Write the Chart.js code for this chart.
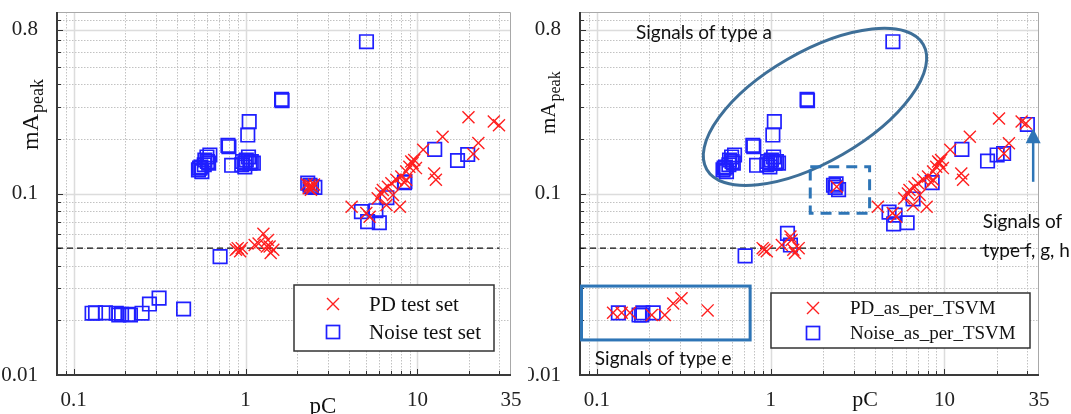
<!DOCTYPE html>
<html>
<head>
<meta charset="utf-8">
<script src="https://cdn.jsdelivr.net/npm/chart.js@4.4.1/dist/chart.umd.min.js"></script>
<style>
  html, body { margin: 0; padding: 0; background: #fff; width: 1071px; height: 414px; overflow: hidden; }
  #leftPanel { position: absolute; left: 0; top: 0; }
  #rightPanel { position: absolute; left: 528px; top: 0; }
</style>
</head>
<body>
<canvas id="leftPanel" width="535" height="414"></canvas>
<canvas id="rightPanel" width="543" height="414"></canvas>
<script>
// axis ranges, ticks and grid values (pC on x, mA peak on y, both log)
const xRange = [0.08, 35];
const yRange = [0.01, 1];
const xTickValues = [0.1, 1, 10, 35];
const xTickLabels = ['0.1', '1', '10', '35'];
const yTickValues = [0.01, 0.1, 0.8];
const yTickLabels = ['0.01', '0.1', '0.8'];
const xMajorGrid = [0.1, 1, 10];
const xMinorGrid = [0.09, 0.2, 0.3, 0.4, 0.5, 0.6, 0.7, 0.8, 0.9, 2, 3, 4, 5, 6, 7, 8, 9, 20, 30];
const yMajorGrid = [0.1, 0.8];
const yMinorGrid = [0.02, 0.03, 0.04, 0.05, 0.06, 0.07, 0.08, 0.09, 0.2, 0.3, 0.4, 0.5, 0.6, 0.7, 0.9];

// dashed threshold line
const thresholdX = [0.08, 30];
const thresholdY = [0.05, 0.05];

// left panel: test sets [pC, mA]
const pdTest = [
    [0.88, 0.049], [0.90, 0.050], [0.93, 0.048], [0.95, 0.050], [1.13, 0.052], [1.19, 0.053],
    [1.27, 0.060], [1.35, 0.0555], [1.38, 0.051], [1.33, 0.051], [1.45, 0.049], [1.40, 0.047],
    [2.27, 0.1125], [2.37, 0.111], [2.45, 0.109], [2.33, 0.107], [2.50, 0.112], [2.40, 0.105],
    [4.14, 0.0846], [5.04, 0.078], [5.27, 0.0745], [5.87, 0.094], [6.16, 0.100], [6.29, 0.1045],
    [6.6, 0.0864], [6.73, 0.109], [7.2, 0.098], [7.05, 0.114], [7.54, 0.119], [7.9, 0.0846],
    [8.05, 0.124], [8.6, 0.132], [8.6, 0.119], [8.4, 0.115], [8.97, 0.1405], [9.2, 0.150],
    [9.36, 0.147], [9.57, 0.153], [9.8, 0.138], [10.8, 0.174], [12.5, 0.129], [12.8, 0.119],
    [14.0, 0.2055], [19.8, 0.263], [21.1, 0.165], [22.6, 0.190], [27.8, 0.249], [29.8, 0.238]
];
const noiseTest = [
    [5.05, 0.686], [1.62, 0.33], [1.63, 0.325], [1.05, 0.249], [1.03, 0.21], [0.79, 0.184], [0.80, 0.181],
    [0.532, 0.135], [0.55, 0.140], [0.575, 0.144], [0.596, 0.159], [0.61, 0.147], [0.557, 0.132],
    [0.58, 0.153], [0.54, 0.138], [0.60, 0.150], [0.62, 0.163],
    [0.83, 0.143], [0.95, 0.144], [0.99, 0.147], [1.04, 0.159], [1.06, 0.147], [1.08, 0.150],
    [0.99, 0.140], [1.01, 0.153], [0.96, 0.150], [1.11, 0.147],
    [2.30, 0.114], [2.42, 0.109], [2.53, 0.108], [2.37, 0.111],
    [0.711, 0.0449],
    [4.72, 0.0794], [5.13, 0.070], [5.73, 0.0804], [6.0, 0.069], [6.64, 0.0948], [8.4, 0.1147],
    [8.45, 0.116], [12.6, 0.175], [17.1, 0.152], [19.6, 0.164],
    [0.128, 0.0219], [0.134, 0.022], [0.153, 0.022], [0.177, 0.0219], [0.183, 0.0214], [0.19, 0.0216],
    [0.207, 0.0216], [0.214, 0.0214], [0.25, 0.0219], [0.276, 0.0246], [0.314, 0.0265], [0.436, 0.0231]
];

// right panel: labels as per TSVM
const pdTsvm = [
    [0.124, 0.022], [0.139, 0.022], [0.155, 0.022], [0.207, 0.0214], [0.246, 0.0214], [0.275, 0.0248],
    [0.307, 0.0265], [0.434, 0.0227],
    [0.90, 0.050], [0.92, 0.049], [0.95, 0.048], [1.16, 0.052], [1.32, 0.0555], [1.35, 0.049],
    [1.45, 0.050], [1.38, 0.047], [1.30, 0.058],
    [2.40, 0.109],
    [4.14, 0.0846], [5.04, 0.078], [5.27, 0.0745], [5.87, 0.094], [6.16, 0.100], [6.29, 0.1045],
    [6.6, 0.0864], [6.73, 0.109], [7.2, 0.098], [7.05, 0.114], [7.54, 0.119], [7.9, 0.0846],
    [8.05, 0.124], [8.6, 0.132], [8.6, 0.119], [8.4, 0.115], [8.97, 0.1405], [9.2, 0.150],
    [9.36, 0.147], [9.57, 0.153], [9.8, 0.138], [10.8, 0.174], [12.5, 0.129], [12.8, 0.119],
    [14.0, 0.2055], [20.6, 0.259], [23.5, 0.189], [22.0, 0.166], [27.8, 0.249], [29.4, 0.243]
];
const noiseTsvm = [
    [5.05, 0.686], [1.62, 0.33], [1.63, 0.325], [1.05, 0.249], [1.03, 0.21], [0.79, 0.184], [0.80, 0.181],
    [0.532, 0.135], [0.55, 0.140], [0.575, 0.144], [0.596, 0.159], [0.61, 0.147], [0.557, 0.132],
    [0.58, 0.153], [0.54, 0.138], [0.60, 0.150], [0.62, 0.163],
    [0.83, 0.143], [0.95, 0.144], [0.99, 0.147], [1.04, 0.159], [1.06, 0.147], [1.08, 0.150],
    [0.99, 0.140], [1.01, 0.153], [0.96, 0.150], [1.11, 0.147],
    [2.30, 0.111], [2.46, 0.105], [2.35, 0.108], [2.38, 0.113],
    [0.713, 0.0453], [1.25, 0.0603], [1.30, 0.052],
    [4.8, 0.079], [5.2, 0.076], [5.1, 0.068], [6.1, 0.069], [6.6, 0.0933], [8.5, 0.1147],
    [12.6, 0.175], [17.7, 0.151], [20.1, 0.163], [21.9, 0.166], [30.0, 0.240],
    [0.133, 0.022], [0.175, 0.0214], [0.181, 0.0214], [0.184, 0.022], [0.211, 0.022]
];

const toPoints = (arr) => arr.map(([x, y]) => ({ x: x, y: y }));

const serif = '"Liberation Serif", "Times New Roman", serif';
Chart.defaults.font.family = serif;

/* Draws the grid, box, legend, axis titles and notes of one panel
*/
const panelDecor = {
    id: 'panelDecor',

    beforeDatasetsDraw(chart, args, opts) {
        const ctx = chart.ctx;
        const a = chart.chartArea;
        const xs = chart.scales.x;
        const ys = chart.scales.y;
        const vLine = (v) => { const p = Math.round(xs.getPixelForValue(v)) + 0.5; ctx.beginPath(); ctx.moveTo(p, a.top); ctx.lineTo(p, a.bottom); ctx.stroke(); };
        const hLine = (v) => { const p = Math.round(ys.getPixelForValue(v)) + 0.5; ctx.beginPath(); ctx.moveTo(a.left, p); ctx.lineTo(a.right, p); ctx.stroke(); };

        ctx.save();
        // minor dotted grid
        ctx.strokeStyle = '#c2c2c2';
        ctx.lineWidth = 1;
        ctx.setLineDash([1.5, 1.5]);
        xMinorGrid.forEach(vLine);
        yMinorGrid.forEach(hLine);
        // major solid grid
        ctx.setLineDash([]);
        ctx.strokeStyle = '#dcdcdc';
        ctx.lineWidth = 1.5;
        xMajorGrid.forEach(vLine);
        yMajorGrid.forEach(hLine);

        // top and right border
        ctx.strokeStyle = '#a8a8a8';
        ctx.lineWidth = 1;
        ctx.beginPath();
        ctx.moveTo(a.left, a.top + 0.5);
        ctx.lineTo(a.right - 0.5, a.top + 0.5);
        ctx.lineTo(a.right - 0.5, a.bottom);
        ctx.stroke();

        // inward ticks on left and bottom axes
        ctx.strokeStyle = '#333';
        ctx.beginPath();
        xMajorGrid.concat(xMinorGrid).forEach(v => {
            const p = Math.round(xs.getPixelForValue(v)) + 0.5;
            const len = xMajorGrid.includes(v) ? 6 : 4;
            ctx.moveTo(p, a.bottom); ctx.lineTo(p, a.bottom - len);
        });
        yMajorGrid.concat(yMinorGrid).forEach(v => {
            const p = Math.round(ys.getPixelForValue(v)) + 0.5;
            const len = yMajorGrid.includes(v) ? 6 : 4;
            ctx.moveTo(a.left, p); ctx.lineTo(a.left + len, p);
        });
        ctx.stroke();

        // axis lines
        ctx.strokeStyle = '#3a3a3a';
        ctx.lineWidth = 2;
        ctx.beginPath();
        ctx.moveTo(a.left, a.top);
        ctx.lineTo(a.left, a.bottom);
        ctx.lineTo(a.right, a.bottom);
        ctx.stroke();
        ctx.restore();
    },

    afterDatasetsDraw(chart, args, opts) {
        const ctx = chart.ctx;
        const xs = chart.scales.x;
        const ys = chart.scales.y;
        const pd = chart.data.datasets[0];
        const noise = chart.data.datasets[1];
        ctx.save();

        // notes (right panel only)
        (opts.notes || []).forEach(n => {
            ctx.strokeStyle = n.color;
            ctx.fillStyle = n.color;
            ctx.lineWidth = n.width || 3;
            ctx.setLineDash(n.dash || []);
            if (n.kind === 'ellipse') {
                ctx.beginPath();
                ctx.ellipse(xs.getPixelForValue(n.x), ys.getPixelForValue(n.y), n.rx, n.ry, n.angle * Math.PI / 180, 0, Math.PI * 2);
                ctx.stroke();
            } else if (n.kind === 'box') {
                const x0 = xs.getPixelForValue(n.x0), x1 = xs.getPixelForValue(n.x1);
                const y0 = ys.getPixelForValue(n.y0), y1 = ys.getPixelForValue(n.y1);
                ctx.strokeRect(x0, y1, x1 - x0, y0 - y1);
            } else if (n.kind === 'arrow') {
                const px = xs.getPixelForValue(n.x);
                const yFrom = ys.getPixelForValue(n.yFrom);
                const yTo = ys.getPixelForValue(n.yTo);
                ctx.beginPath();
                ctx.moveTo(px, yFrom);
                ctx.lineTo(px, yTo + 12);
                ctx.stroke();
                ctx.beginPath();
                ctx.moveTo(px, yTo);
                ctx.lineTo(px - 7.5, yTo + 15);
                ctx.lineTo(px + 7.5, yTo + 15);
                ctx.closePath();
                ctx.fill();
            } else if (n.kind === 'text') {
                ctx.font = n.font;
                ctx.fillStyle = '#111';
                ctx.textAlign = 'left';
                ctx.textBaseline = 'middle';
                ctx.fillText(n.text, xs.getPixelForValue(n.x), ys.getPixelForValue(n.y));
            }
        });
        ctx.setLineDash([]);

        // legend box
        const lg = opts.legend;
        ctx.fillStyle = '#fff';
        ctx.fillRect(lg.x0, lg.y0, lg.x1 - lg.x0, lg.y1 - lg.y0);
        ctx.strokeStyle = '#333';
        ctx.lineWidth = 1.5;
        ctx.strokeRect(lg.x0, lg.y0, lg.x1 - lg.x0, lg.y1 - lg.y0);

        // legend markers
        ctx.lineWidth = pd.pointBorderWidth;
        ctx.strokeStyle = pd.pointBorderColor;
        ctx.beginPath();
        ctx.moveTo(lg.markX - 6, lg.row1 - 6); ctx.lineTo(lg.markX + 6, lg.row1 + 6);
        ctx.moveTo(lg.markX + 6, lg.row1 - 6); ctx.lineTo(lg.markX - 6, lg.row1 + 6);
        ctx.stroke();
        ctx.lineWidth = noise.pointBorderWidth;
        ctx.strokeStyle = noise.pointBorderColor;
        ctx.strokeRect(lg.markX - 6.5, lg.row2 - 6.5, 13, 13);

        ctx.fillStyle = '#111';
        ctx.font = lg.font;
        ctx.textAlign = 'left';
        ctx.textBaseline = 'middle';
        ctx.fillText(pd.label, lg.textX, lg.row1 + 1);
        ctx.fillText(noise.label, lg.textX, lg.row2 + 1);

        // x title
        const t = opts.titles;
        ctx.font = t.xFont;
        ctx.textAlign = 'center';
        ctx.textBaseline = 'alphabetic';
        ctx.fillText('pC', t.xCenter, t.xBase);

        // y title: mA with subscript peak, rotated
        ctx.translate(t.yBase, t.yStart);
        ctx.rotate(-Math.PI / 2);
        ctx.textAlign = 'left';
        ctx.font = t.yFont;
        ctx.fillText('mA', 0, 0);
        const w = ctx.measureText('mA').width;
        ctx.font = t.subFont;
        ctx.fillText('peak', w + 1, t.subDrop);
        ctx.restore();
    }
};

/* Builds one log-log scatter panel
*/
const buildPanel = (canvasId, setup) => {

    const ctx = document.getElementById(canvasId).getContext('2d');

    const data = {
        datasets: [{
            label: setup.pdLabel,
            data: toPoints(setup.pd),
            pointStyle: 'crossRot',
            pointRadius: 8.5,
            pointBorderColor: '#ff1f1f',
            pointBackgroundColor: '#ff1f1f',
            pointBorderWidth: 1.4,
            showLine: false
        }, {
            label: setup.noiseLabel,
            data: toPoints(setup.noise),
            pointStyle: 'rect',
            pointRadius: 9.5,
            pointBorderColor: '#1f1fff',
            pointBackgroundColor: 'rgba(0,0,0,0)',
            pointBorderWidth: 1.7,
            showLine: false
        }, {
            type: 'line',
            label: 'threshold',
            data: thresholdX.map((v, i) => ({ x: v, y: thresholdY[i] })),
            borderColor: '#111',
            borderWidth: 1.3,
            borderDash: [6, 4],
            pointRadius: 0,
            fill: false
        }]
    };

    const tickFont = { family: serif, size: 21 };

    const config = {
        type: 'scatter',
        data: data,
        options: {
            responsive: false,
            animation: false,
            devicePixelRatio: 1,
            events: [],
            layout: { padding: { top: 12, right: setup.padRight, left: 0, bottom: 0 } },
            plugins: {
                legend: { display: false },
                tooltip: { enabled: false },
                panelDecor: setup.decor
            },
            scales: {
                x: {
                    type: 'logarithmic',
                    min: xRange[0],
                    max: xRange[1],
                    grid: { display: false },
                    border: { display: false },
                    ticks: {
                        autoSkip: false,
                        maxRotation: 0,
                        padding: 5,
                        color: '#222',
                        font: tickFont,
                        callback: (v) => xTickLabels[xTickValues.indexOf(v)] || ''
                    },
                    afterBuildTicks: (s) => { s.ticks = xTickValues.map(v => ({ value: v })); },
                    afterFit: (s) => { s.height = 39; s.paddingLeft = 0; s.paddingRight = 0; }
                },
                y: {
                    type: 'logarithmic',
                    min: yRange[0],
                    max: yRange[1],
                    grid: { display: false },
                    border: { display: false },
                    ticks: {
                        autoSkip: false,
                        padding: 11,
                        color: '#222',
                        font: tickFont,
                        callback: (v) => yTickLabels[yTickValues.indexOf(v)] || ''
                    },
                    afterBuildTicks: (s) => { s.ticks = yTickValues.map(v => ({ value: v })); },
                    afterFit: (s) => { s.width = setup.yWidth; s.paddingTop = 0; s.paddingBottom = 0; }
                }
            }
        },
        plugins: [panelDecor]
    };

    return new Chart(ctx, config);
};

const noteBlue = '#2e75b6';

buildPanel('leftPanel', {
    pdLabel: 'PD test set',
    noiseLabel: 'Noise test set',
    pd: pdTest,
    noise: noiseTest,
    yWidth: 57,
    padRight: 24,
    decor: {
        legend: { x0: 294, y0: 285, x1: 494, y1: 351, markX: 333, textX: 369, row1: 304, row2: 332,
                  font: '21px ' + serif },
        titles: { xCenter: 323, xBase: 413, xFont: '23px ' + serif,
                  yBase: 38, yStart: 150, yFont: '24px ' + serif, subFont: '18px ' + serif, subDrop: 5 },
        notes: []
    }
});

buildPanel('rightPanel', {
    pdLabel: 'PD_as_per_TSVM',
    noiseLabel: 'Noise_as_per_TSVM',
    pd: pdTsvm,
    noise: noiseTsvm,
    yWidth: 52,
    padRight: 32,
    decor: {
        legend: { x0: 243, y0: 293, x1: 502, y1: 348, markX: 285, textX: 322, row1: 308, row2: 333,
                  font: '19px ' + serif },
        titles: { xCenter: 337, xBase: 406, xFont: '22px ' + serif,
                  yBase: 27, yStart: 134, yFont: '21px ' + serif, subFont: '16px ' + serif, subDrop: 5 },
        notes: [
            { kind: 'ellipse', x: 1.8, y: 0.30, rx: 125, ry: 55, angle: -30, color: '#3e6f98', width: 3 },
            { kind: 'box', x0: 1.69, x1: 3.71, y0: 0.0778, y1: 0.1405, color: noteBlue, width: 3, dash: [11, 7] },
            { kind: 'box', x0: 0.0816, x1: 0.762, y0: 0.0156, y1: 0.0309, color: noteBlue, width: 3 },
            { kind: 'arrow', x: 32.4, yFrom: 0.116, yTo: 0.229, color: noteBlue, width: 2.5 },
            { kind: 'text', text: 'Signals of type a', x: 0.168, y: 0.767, font: '19px Lato' },
            { kind: 'text', text: 'Signals of type e', x: 0.0974, y: 0.01226, font: '19px Lato' },
            { kind: 'text', text: 'Signals of', x: 16.6, y: 0.0697, font: '19px Lato' },
            { kind: 'text', text: 'type f, g, h', x: 16.6, y: 0.0482, font: '19px Lato' }
        ]
    }
});
</script>
</body>
</html>
